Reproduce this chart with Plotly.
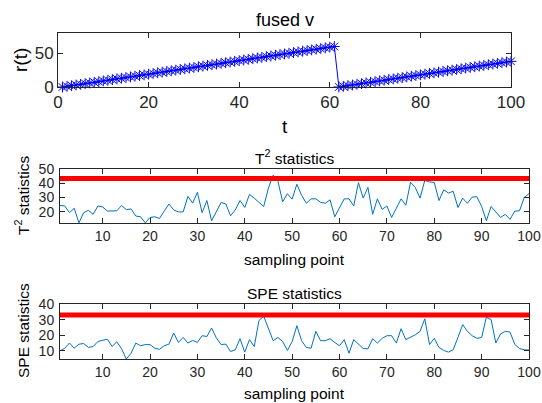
import plotly.graph_objects as go

W, H = 542, 403

# ---------------- data ----------------
t = list(range(1, 101))
r_t = [0, 1, 2, 3, 4, 5, 6, 7, 8, 9, 10, 11, 12, 13, 14, 15, 16, 17, 18, 19,
       20, 21, 22, 23, 24, 25, 26, 27, 28, 29, 30, 31, 32, 33, 34, 35, 36, 37, 38, 39,
       40, 41, 42, 43, 44, 45, 46, 47, 48, 49, 50, 51, 52, 53, 54, 55, 56, 57, 58, 59,
       60, 0, 1, 2, 3, 4, 5, 6, 7, 8, 9, 10, 11, 12, 13, 14, 15, 16, 17, 18,
       19, 20, 21, 22, 23, 24, 25, 26, 27, 28, 29, 30, 31, 32, 33, 34, 35, 36, 37, 38]

sampling_point = list(range(1, 101))
T2_stat = [24.3, 24.0, 19.3, 22.4, 12.1, 19.3, 20.9, 18.1, 24.0, 23.3,
           20.4, 20.6, 20.6, 24.3, 21.4, 21.9, 16.9, 16.4, 12.1, 15.9,
           16.4, 15.2, 20.0, 25.4, 21.2, 19.8, 19.8, 30.7, 26.0, 33.6,
           19.3, 27.8, 13.6, 19.5, 26.4, 25.4, 17.1, 21.2, 27.8, 23.0,
           32.1, 29.5, 26.4, 23.6, 36.6, 45.7, 41.4, 26.9, 32.6, 28.8,
           39.3, 31.4, 25.9, 29.0, 29.0, 26.6, 25.9, 28.3, 16.4, 22.9,
           29.0, 29.0, 24.0, 40.4, 29.5, 37.1, 18.1, 29.0, 21.6, 24.0,
           15.9, 22.4, 29.0, 24.5, 40.7, 36.9, 29.5, 41.9, 40.9, 40.5,
           27.8, 35.4, 33.1, 34.3, 22.9, 29.5, 25.9, 30.2, 30.5, 23.6,
           13.6, 23.6, 20.0, 15.9, 18.1, 14.5, 20.4, 20.6, 30.0, 32.6]
T2_limit = 43.4

SPE_stat = [10.0, 11.7, 15.0, 11.7, 14.3, 14.7, 12.2, 12.8, 16.0, 16.9,
            17.5, 12.8, 15.8, 11.3, 4.8, 8.5, 15.0, 13.3, 14.0, 14.0,
            11.7, 11.0, 13.3, 14.3, 21.4, 15.4, 18.6, 15.0, 16.7, 15.4,
            19.7, 19.2, 24.6, 18.3, 14.1, 14.3, 9.6, 10.7, 17.8, 9.2,
            17.2, 12.8, 29.4, 32.2, 24.6, 16.5, 18.6, 16.0, 10.3, 16.0,
            26.1, 16.5, 12.2, 11.7, 22.5, 16.5, 16.5, 17.8, 15.4, 13.3,
            17.2, 8.5, 17.2, 14.1, 11.5, 11.3, 17.8, 15.0, 18.0, 19.7,
            19.7, 15.0, 24.2, 17.2, 18.6, 20.3, 22.5, 30.5, 14.1, 18.0,
            12.2, 10.3, 9.2, 10.7, 18.6, 26.8, 22.5, 19.7, 18.0, 18.6,
            31.5, 30.0, 15.0, 20.9, 22.5, 22.0, 14.1, 11.5, 10.7, 10.5]
SPE_limit = 33.0

top_xticks = [0, 20, 40, 60, 80, 100]
top_yticks = [0, 50]
low_xticks = [10, 20, 30, 40, 50, 60, 70, 80, 90, 100]
T2_yticks = [20, 30, 40, 50]
SPE_yticks = [10, 20, 30, 40]

# ---------------- figure ----------------
FONT = "Liberation Sans, Arial, Helvetica, sans-serif"
AX = "#262626"

def px(x):
    return x / W

def py(y):
    return 1 - y / H

fig = go.Figure()
fig.add_trace(go.Scatter(
    x=t, y=r_t, mode="lines+markers", xaxis="x", yaxis="y", cliponaxis=False,
    line=dict(color="#0000FF", width=1),
    marker=dict(symbol="asterisk-open", size=9, color="#0000FF",
                line=dict(color="#0000FF", width=1))))

fig.add_trace(go.Scatter(
    x=sampling_point, y=T2_stat, mode="lines", xaxis="x2", yaxis="y2",
    line=dict(color="#0072BD", width=1)))
fig.add_trace(go.Scatter(
    x=[sampling_point[0], sampling_point[-1]], y=[T2_limit, T2_limit], mode="lines",
    xaxis="x2", yaxis="y2", line=dict(color="#FF0000", width=5)))

fig.add_trace(go.Scatter(
    x=sampling_point, y=SPE_stat, mode="lines", xaxis="x3", yaxis="y3",
    line=dict(color="#0072BD", width=1)))
fig.add_trace(go.Scatter(
    x=[sampling_point[0], sampling_point[-1]], y=[SPE_limit, SPE_limit], mode="lines",
    xaxis="x3", yaxis="y3", line=dict(color="#FF0000", width=5)))

def axis(**kw):
    d = dict(showline=True, linecolor=AX, linewidth=1, mirror="ticks",
             ticks="inside", ticklen=5, tickcolor=AX, tickwidth=1,
             showgrid=False, zeroline=False, fixedrange=True, automargin=False,
             tickfont=dict(family=FONT, size=14, color=AX))
    d.update(kw)
    return d

top_dom_x = [px(58), px(511)]
low_dom_x = [px(60), px(529)]

fig.update_layout(
    width=W, height=H, margin=dict(l=0, r=0, t=0, b=0),
    paper_bgcolor="white", plot_bgcolor="white", showlegend=False,
    font=dict(family=FONT, color=AX),
    xaxis=axis(domain=top_dom_x, anchor="y", range=[0, 100], tickvals=top_xticks,
               tickfont=dict(family=FONT, size=17, color=AX)),
    yaxis=axis(domain=[py(87), py(33)], anchor="x", range=[0, 80], tickvals=top_yticks,
               tickfont=dict(family=FONT, size=17, color=AX)),
    xaxis2=axis(domain=low_dom_x, anchor="y2", range=[1, 100], tickvals=low_xticks),
    yaxis2=axis(domain=[py(223), py(169)], anchor="x2", range=[12, 50], tickvals=T2_yticks,
                ticklabelstandoff=2),
    xaxis3=axis(domain=low_dom_x, anchor="y3", range=[1, 100], tickvals=low_xticks),
    yaxis3=axis(domain=[py(359), py(304)], anchor="x3", range=[4.8, 40], tickvals=SPE_yticks,
                ticklabelstandoff=2),
)

def ann(text, x, y, size, angle=0):
    fig.add_annotation(text=text, x=px(x), y=py(y), xref="paper", yref="paper",
                       xanchor="center", yanchor="middle", showarrow=False,
                       textangle=angle, font=dict(family=FONT, size=size, color="#000000"))

ann("fused v", 284.5, 20, 18)
ann("t", 284.5, 127, 19)
ann("r(t)", 21, 60, 19, -90)

ann("T<sup>2</sup> statistics", 294.5, 157, 15.5)
ann("sampling point", 294.5, 259, 15.5)
ann("T<sup>2</sup> statistics", 22, 196, 15.5, -90)

ann("SPE statistics", 294.5, 293, 15.5)
ann("sampling point", 294.5, 393, 15.5)
ann("SPE statistics", 23, 331, 15.5, -90)

fig.write_html(
    "out.html",
    config={"displayModeBar": False},
    post_script="document.body.style.margin='0';document.body.style.overflow='hidden';",
)
